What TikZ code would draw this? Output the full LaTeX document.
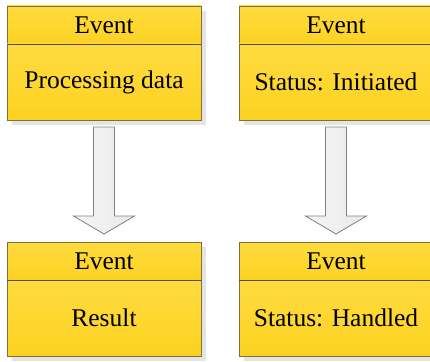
\documentclass[tikz,border=0pt]{standalone}
\usepackage{fontspec}
\setmainfont{Liberation Serif}
\newfontfamily\evfont{Liberation Serif}
\usetikzlibrary{calc}

\definecolor{evtop}{HTML}{FFDB40}
\definecolor{evbot}{HTML}{FCD221}
\definecolor{evedge}{HTML}{7E7036}
\definecolor{evdiv}{HTML}{4D4D4D}
\definecolor{shade}{HTML}{E4E4E4}
\definecolor{arrfill}{HTML}{F6F6F6}
\definecolor{arrfillb}{HTML}{E9E9E9}
\definecolor{arredge}{HTML}{808080}

\tikzset{
  evhead/.style={draw=evedge, line width=0.8pt, top color=evtop, bottom color=evbot,
    minimum width=194pt, minimum height=38pt, inner sep=0pt, outer sep=0pt,
    font=\evfont\fontsize{25.5}{30}\selectfont},
  evbody/.style={evhead, minimum height=76pt},
  evdivider/.style={draw=evdiv, line width=0.8pt},
  boxshadow/.style={fill=shade},
  blockarrow/.style={draw=arredge, line width=0.8pt, left color=arrfill, right color=arrfillb, line join=miter},
}

% hollow block arrow from the point #1 down to the point #2
\newcommand\blockarrowpath[3]{%
  \path[#3] let \p1=(#1), \p2=(#2) in
    (\x1-10.5pt,\y1) -- (\x1+10.5pt,\y1) -- (\x1+10.5pt,\y2+18pt)
    -- (\x1+30.5pt,\y2+18pt) -- (\x2,\y2) -- (\x1-30.5pt,\y2+18pt)
    -- (\x1-10.5pt,\y2+18pt) -- cycle;}

\begin{document}
\begin{tikzpicture}[x=1pt,y=-1pt]
\useasboundingbox (0,0) rectangle (430,361);

% drop shadows of the four event boxes
\foreach \cx/\ty in {104/6, 336/6, 104/242, 336/242}{
  \fill[boxshadow] (\cx-97+5,\ty+5) rectangle (\cx+97+5,\ty+114+5);
}

% event boxes: header and body
\node[evhead] (h1) at (104,25) {Event};
\node[evbody] (b1) at (104,82) {Processing data};
\node[evhead] (h2) at (336,25) {Event};
\node[evbody] (b2) at (336,82) {Status: Initiated};
\node[evhead] (h3) at (104,261) {Event};
\node[evbody] (b3) at (104,318) {Result};
\node[evhead] (h4) at (336,261) {Event};
\node[evbody] (b4) at (336,318) {Status: Handled};

\foreach \h in {h1,h2,h3,h4}{
  \draw[evdivider] (\h.south west) -- (\h.south east);
}

% block arrows between the boxes
\coordinate (a1s) at ($(b1.south)+(0,7)$);
\coordinate (a1e) at ($(h3.north)+(0,-8)$);
\coordinate (a2s) at ($(b2.south)+(0,7)$);
\coordinate (a2e) at ($(h4.north)+(0,-8)$);

\begin{scope}[xshift=4pt,yshift=-4pt]
  \blockarrowpath{a1s}{a1e}{fill=shade}
  \blockarrowpath{a2s}{a2e}{fill=shade}
\end{scope}
\blockarrowpath{a1s}{a1e}{blockarrow}
\blockarrowpath{a2s}{a2e}{blockarrow}
\end{tikzpicture}
\end{document}
